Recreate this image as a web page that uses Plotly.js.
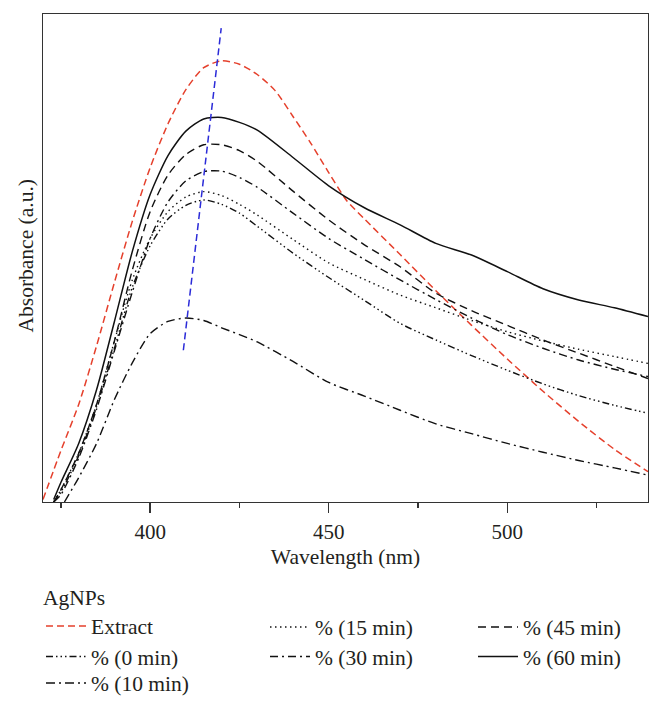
<!DOCTYPE html>
<html><head><meta charset="utf-8">
<script src="https://cdn.plot.ly/plotly-3.0.1.min.js"></script>
<style>html,body{margin:0;padding:0;background:#fff}#chart{width:663px;height:710px}</style>
</head><body><div id="chart"></div>
<script>
// Wavelengths (nm)
const wlExtract = [370,375,380,385,390,395,400,405,410,415,420,425,430,435,440,445,450,455,460,470,480,490,500,510,520,530,539.4];
const absExtract = [0.005,0.105,0.2,0.32,0.45,0.575,0.685,0.775,0.845,0.89,0.904,0.897,0.876,0.843,0.79,0.735,0.675,0.618,0.58,0.507,0.433,0.362,0.293,0.227,0.165,0.108,0.062];

const wavelength = [373,375,380,385,390,395,400,405,410,415,420,425,430,440,450,460,470,480,490,500,510,520,530,539.4];
const abs0min  = [0,0.02,0.095,0.195,0.315,0.44,0.525,0.58,0.608,0.619,0.61,0.592,0.565,0.51,0.46,0.413,0.366,0.332,0.3,0.27,0.242,0.218,0.198,0.182];
const abs15min = [0,0.025,0.1,0.2,0.33,0.455,0.54,0.595,0.625,0.636,0.628,0.61,0.588,0.538,0.49,0.456,0.424,0.398,0.372,0.349,0.33,0.313,0.298,0.284];
const abs30min = [0,0.015,0.09,0.19,0.31,0.43,0.54,0.615,0.658,0.677,0.678,0.665,0.645,0.592,0.54,0.497,0.455,0.415,0.377,0.343,0.315,0.291,0.272,0.257];
const abs45min = [0,0.025,0.1,0.2,0.33,0.475,0.595,0.67,0.712,0.732,0.732,0.72,0.698,0.637,0.578,0.527,0.482,0.428,0.392,0.362,0.332,0.305,0.278,0.253];
const abs60min = [0.005,0.04,0.12,0.23,0.37,0.513,0.63,0.71,0.76,0.785,0.788,0.778,0.762,0.706,0.648,0.603,0.568,0.53,0.506,0.472,0.437,0.414,0.398,0.38];

const wl10min = [376,380,385,390,395,400,405,410,415,420,425,430,440,450,460,470,480,490,500,510,520,530,539.4];
const abs10min = [0,0.05,0.12,0.21,0.285,0.345,0.37,0.377,0.372,0.357,0.343,0.328,0.288,0.245,0.217,0.188,0.16,0.14,0.12,0.102,0.085,0.07,0.055];

// Peak shift guide line
const peakTrendWl = [409.3, 419.9];
const peakTrendAbs = [0.311, 0.971];

const xTickVals = [400, 450, 500];
const xTickText = ['400', '450', '500'];

const FONT = 'Liberation Serif, Times New Roman, serif';
const FS = 21.5;
const TXT = '#231f20';
const BLACK = '#111111';

function tr(x, y, name, legend, color, dash, width) {
  return {x: x, y: y, name: name, legend: legend, type: 'scatter', mode: 'lines',
    line: {color: color, dash: dash, width: width, shape: 'spline', smoothing: 0.7}};
}

const data = [
  tr(wlExtract, absExtract, 'Extract', 'legend', '#e5402c', '7px,4px', 1.5),
  tr(wavelength, abs0min, '% (0 min)', 'legend2', BLACK, '7px,3px,1.5px,3px,1.5px,3px,1.5px,3px', 1.4),
  tr(wl10min, abs10min, '% (10 min)', 'legend3', BLACK, '9px,4px,2px,4px', 1.4),
  tr(wavelength, abs15min, '% (15 min)', 'legend4', BLACK, '1.5px,3.5px', 1.4),
  tr(wavelength, abs30min, '% (30 min)', 'legend5', BLACK, '8px,4px,2px,4px', 1.4),
  tr(wavelength, abs45min, '% (45 min)', 'legend6', BLACK, '8px,5px', 1.4),
  tr(wavelength, abs60min, '% (60 min)', 'legend7', BLACK, 'solid', 1.5),
  {x: peakTrendWl, y: peakTrendAbs, type: 'scatter', mode: 'lines', showlegend: false,
   line: {color: '#2b2bd8', dash: '7px,4px', width: 1.5}}
];

function lg(xpx, ypx, anchor, title) {
  const o = {x: xpx/663, xref: 'container', xanchor: 'left', y: 1 - ypx/710, yref: 'container', yanchor: anchor,
    orientation: 'v', bgcolor: 'rgba(0,0,0,0)', borderwidth: 0, itemwidth: 40,
    font: {family: FONT, size: FS, color: TXT}, traceorder: 'normal'};
  if (title) o.title = {text: title, font: {family: FONT, size: FS, color: TXT}};
  return o;
}

const rows = [627, 656.5, 683];
const cols = [41, 265, 473];

const layout = {
  width: 663, height: 710,
  margin: {l: 43, r: 15, t: 14, b: 208, autoexpand: false},
  paper_bgcolor: '#fff', plot_bgcolor: '#fff',
  showlegend: true,
  xaxis: {
    range: [370, 539.4], showgrid: false, zeroline: false,
    showline: true, linecolor: '#333', linewidth: 1.4, mirror: true,
    tickmode: 'array', tickvals: xTickVals, ticktext: xTickText,
    ticks: 'outside', ticklen: 10, tickwidth: 1.3, tickcolor: '#333',
    minor: {tickmode: 'linear', tick0: 375, dtick: 50, ticks: 'outside', ticklen: 5, tickwidth: 1.3, tickcolor: '#333'},
    tickfont: {family: FONT, size: 21, color: TXT},
    title: {text: 'Wavelength (nm)', font: {family: FONT, size: FS, color: TXT}, standoff: 6},
    automargin: false
  },
  yaxis: {
    range: [0, 1], showgrid: false, zeroline: false,
    showline: true, linecolor: '#333', linewidth: 1.4, mirror: true,
    showticklabels: false, ticks: '',
    automargin: false
  },
  annotations: [{
    text: 'Absorbance (a.u.)', textangle: -90, showarrow: false,
    xref: 'paper', x: 0, xanchor: 'center', xshift: -17.5,
    yref: 'paper', y: 0.5, yanchor: 'middle', yshift: 2,
    font: {family: FONT, size: FS, color: TXT}
  }],
  legend:  lg(cols[0], 577.5, 'top', 'AgNPs'),
  legend2: lg(cols[0], rows[1], 'middle'),
  legend3: lg(cols[0], rows[2], 'middle'),
  legend4: lg(cols[1], rows[0], 'middle'),
  legend5: lg(cols[1], rows[1], 'middle'),
  legend6: lg(cols[2], rows[0], 'middle'),
  legend7: lg(cols[2], rows[1], 'middle')
};

Plotly.newPlot('chart', data, layout, {displayModeBar: false, staticPlot: true});
</script>
</body></html>
